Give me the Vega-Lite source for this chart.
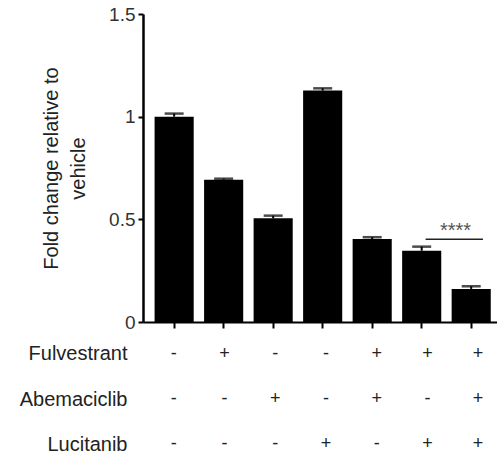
{
  "$schema": "https://vega.github.io/schema/vega-lite/v6.json",
  "padding": {"top": 5, "left": 19, "right": 0, "bottom": 0},
  "background": "white",
  "config": {
    "view": {"stroke": null},
    "font": "Liberation Sans",
    "axis": {"grid": false, "labelFont": "Liberation Sans", "titleFont": "Liberation Sans"}
  },
  "datasets": {
    "bars": [
      {"group": "Vehicle", "value": 1.0, "upper": 1.015},
      {"group": "F", "value": 0.693, "upper": 0.698},
      {"group": "A", "value": 0.505, "upper": 0.518},
      {"group": "L", "value": 1.127, "upper": 1.138},
      {"group": "F+A", "value": 0.404, "upper": 0.413},
      {"group": "F+L", "value": 0.347, "upper": 0.367},
      {"group": "F+A+L", "value": 0.161, "upper": 0.174}
    ],
    "sig": [
      {"from": "F+L", "to": "F+A+L", "y": 0.403, "label": "****", "ly": 0.416}
    ],
    "table": [
      {"group": "Vehicle", "drug": "Fulvestrant", "sign": "-"},
      {"group": "F", "drug": "Fulvestrant", "sign": "+"},
      {"group": "A", "drug": "Fulvestrant", "sign": "-"},
      {"group": "L", "drug": "Fulvestrant", "sign": "-"},
      {"group": "F+A", "drug": "Fulvestrant", "sign": "+"},
      {"group": "F+L", "drug": "Fulvestrant", "sign": "+"},
      {"group": "F+A+L", "drug": "Fulvestrant", "sign": "+"},
      {"group": "Vehicle", "drug": "Abemaciclib", "sign": "-"},
      {"group": "F", "drug": "Abemaciclib", "sign": "-"},
      {"group": "A", "drug": "Abemaciclib", "sign": "+"},
      {"group": "L", "drug": "Abemaciclib", "sign": "-"},
      {"group": "F+A", "drug": "Abemaciclib", "sign": "+"},
      {"group": "F+L", "drug": "Abemaciclib", "sign": "-"},
      {"group": "F+A+L", "drug": "Abemaciclib", "sign": "+"},
      {"group": "Vehicle", "drug": "Lucitanib", "sign": "-"},
      {"group": "F", "drug": "Lucitanib", "sign": "-"},
      {"group": "A", "drug": "Lucitanib", "sign": "-"},
      {"group": "L", "drug": "Lucitanib", "sign": "+"},
      {"group": "F+A", "drug": "Lucitanib", "sign": "-"},
      {"group": "F+L", "drug": "Lucitanib", "sign": "+"},
      {"group": "F+A+L", "drug": "Lucitanib", "sign": "+"}
    ]
  },
  "spacing": 0,
  "resolve": {"scale": {"x": "independent", "y": "independent"}},
  "vconcat": [
    {
      "width": 354,
      "height": 308,
      "encoding": {
        "x": {
          "field": "group", "type": "nominal",
          "scale": {"domain": ["Vehicle", "F", "A", "L", "F+A", "F+L", "F+A+L"], "paddingInner": 0.21, "paddingOuter": 0.18, "align": 0.65},
          "axis": {"labels": false, "title": null, "domainColor": "#000", "domainWidth": 2, "tickColor": "#000", "tickWidth": 2, "tickSize": 6}
        }
      },
      "layer": [
        {
          "data": {"name": "bars"},
          "mark": {"type": "bar", "color": "#000"},
          "encoding": {
            "y": {
              "field": "value", "type": "quantitative",
              "scale": {"domain": [0, 1.5], "nice": false},
              "axis": {
                "values": [0, 0.5, 1, 1.5], "format": "~g",
                "title": ["Fold change relative to", "vehicle"],
                "titleFontSize": 20, "titleFontWeight": "normal", "titleColor": "#222", "titleLineHeight": 27, "titlePadding": 20,
                "labelFontSize": 19, "labelColor": "#333", "labelPadding": 3,
                "domainColor": "#000", "domainWidth": 2.5, "tickColor": "#000", "tickWidth": 2, "tickSize": 5
              }
            }
          }
        },
        {
          "data": {"name": "bars"},
          "mark": {"type": "rule", "color": "#000", "strokeWidth": 2},
          "encoding": {"y": {"field": "value", "type": "quantitative"}, "y2": {"field": "upper"}}
        },
        {
          "data": {"name": "bars"},
          "mark": {"type": "tick", "color": "#000", "thickness": 2.5, "size": 19, "orient": "horizontal"},
          "encoding": {"y": {"field": "upper", "type": "quantitative"}}
        },
        {
          "data": {"name": "sig"},
          "mark": {"type": "rule", "color": "#222", "strokeWidth": 1.5},
          "encoding": {
            "x": {"field": "from", "type": "nominal", "bandPosition": 0.6},
            "x2": {"field": "to", "bandPosition": 0.8},
            "y": {"field": "y", "type": "quantitative"}
          }
        },
        {
          "data": {"name": "sig"},
          "mark": {"type": "text", "color": "#555", "fontSize": 20, "align": "center", "baseline": "alphabetic"},
          "encoding": {
            "x": {"field": "to", "type": "nominal", "bandPosition": 0.1},
            "y": {"field": "ly", "type": "quantitative"},
            "text": {"field": "label"}
          }
        }
      ]
    },
    {
      "width": 354,
      "height": 127,
      "data": {"name": "table"},
      "mark": {"type": "text", "fontSize": 18, "color": "#222"},
      "encoding": {
        "x": {
          "field": "group", "type": "nominal",
          "scale": {"type": "point", "domain": ["Vehicle", "F", "A", "L", "F+A", "F+L", "F+A+L"], "padding": 0.491, "align": 0.62},
          "axis": null
        },
        "y": {
          "field": "drug", "type": "nominal",
          "scale": {"type": "point", "domain": ["Fulvestrant", "Abemaciclib", "Lucitanib"], "padding": 0.4, "align": 0.6},
          "axis": {"title": null, "domain": false, "ticks": false, "labelFontSize": 20, "labelColor": "#222", "labelPadding": 16}
        },
        "text": {"field": "sign"}
      }
    }
  ]
}
